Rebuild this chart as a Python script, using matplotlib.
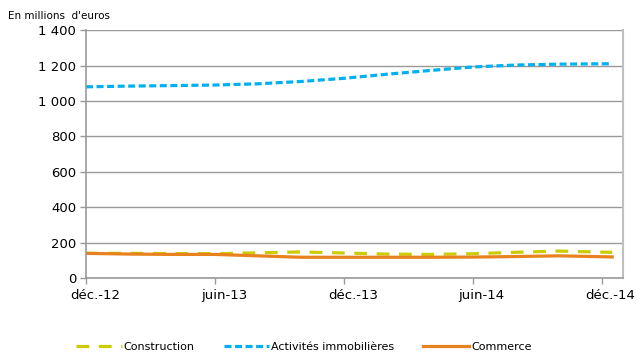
import matplotlib
matplotlib.use('Agg')
import matplotlib.pyplot as plt
import matplotlib.transforms as mtransforms

# months since dec. 2012
months = [0, 2, 4, 6, 8, 10, 12, 14, 16, 18, 20, 22, 24, 24.5]
construction = [139, 139, 138, 137, 142, 147, 141, 135, 133, 137, 145, 152, 146, 145]
immobilier = [1080, 1084, 1087, 1090, 1097, 1110, 1128, 1151, 1172, 1192, 1203, 1208, 1210, 1210]
commerce = [139, 135, 133, 133, 125, 117, 117, 117, 117, 118, 121, 125, 120, 119]

tick_pos = [0, 6, 12, 18, 24]
tick_labels = ['déc.-12', 'juin-13', 'déc.-13', 'juin-14', 'déc.-14']
y_ticks = [0, 200, 400, 600, 800, 1000, 1200, 1400]
y_labels = ['0', '200', '400', '600', '800', '1 000', '1 200', '1 400']

plt.rcParams['font.family'] = ['DejaVu Sans']

fig = plt.figure(figsize=(6.37, 3.55), dpi=100)
ax = fig.add_axes([0.135, 0.217, 0.843, 0.698])

ax.plot(months, construction, color='#cccc00', lw=2.3, dashes=(4, 3), label='Construction')
ax.plot(months, immobilier, color='#00b0f0', lw=2.3, dashes=(2.2, 1.1), label='Activités immobilières')
ax.plot(months, commerce, color='#e8821e', lw=2.3, label='Commerce')

ax.set_xlim(0, 25)
ax.set_ylim(0, 1400)
ax.set_xticks(tick_pos)
ax.set_xticklabels(tick_labels, fontsize=9.5)
ax.set_yticks(y_ticks)
ax.set_yticklabels(y_labels, fontsize=9.5)
ax.grid(axis='y', color='#999999', lw=1)
ax.set_axisbelow(True)
for s in ['left', 'bottom']:
    ax.spines[s].set_color('#999999')
    ax.spines[s].set_linewidth(1.2)
ax.spines['top'].set_visible(False)
ax.spines['right'].set_color('#c0c0c0')
ax.spines['right'].set_linewidth(1.5)
ax.tick_params(axis='both', color='#999999', length=4, width=1, pad=3)
ax.tick_params(axis='x', pad=4)

# labels sit a bit to the right of their ticks
shift = mtransforms.ScaledTranslation(0.09, 0, fig.dpi_scale_trans)
for lab in ax.get_xticklabels():
    lab.set_transform(lab.get_transform() + shift)

fig.text(0.012, 0.955, "En millions  d'euros", fontsize=7.5, va='center')

fig.legend(loc='center', bbox_to_anchor=(0.477, 0.022), ncol=3, frameon=False,
           fontsize=8, handlelength=4.1, handletextpad=0.2, columnspacing=2.6)

fig.savefig('out.png', dpi=100)
